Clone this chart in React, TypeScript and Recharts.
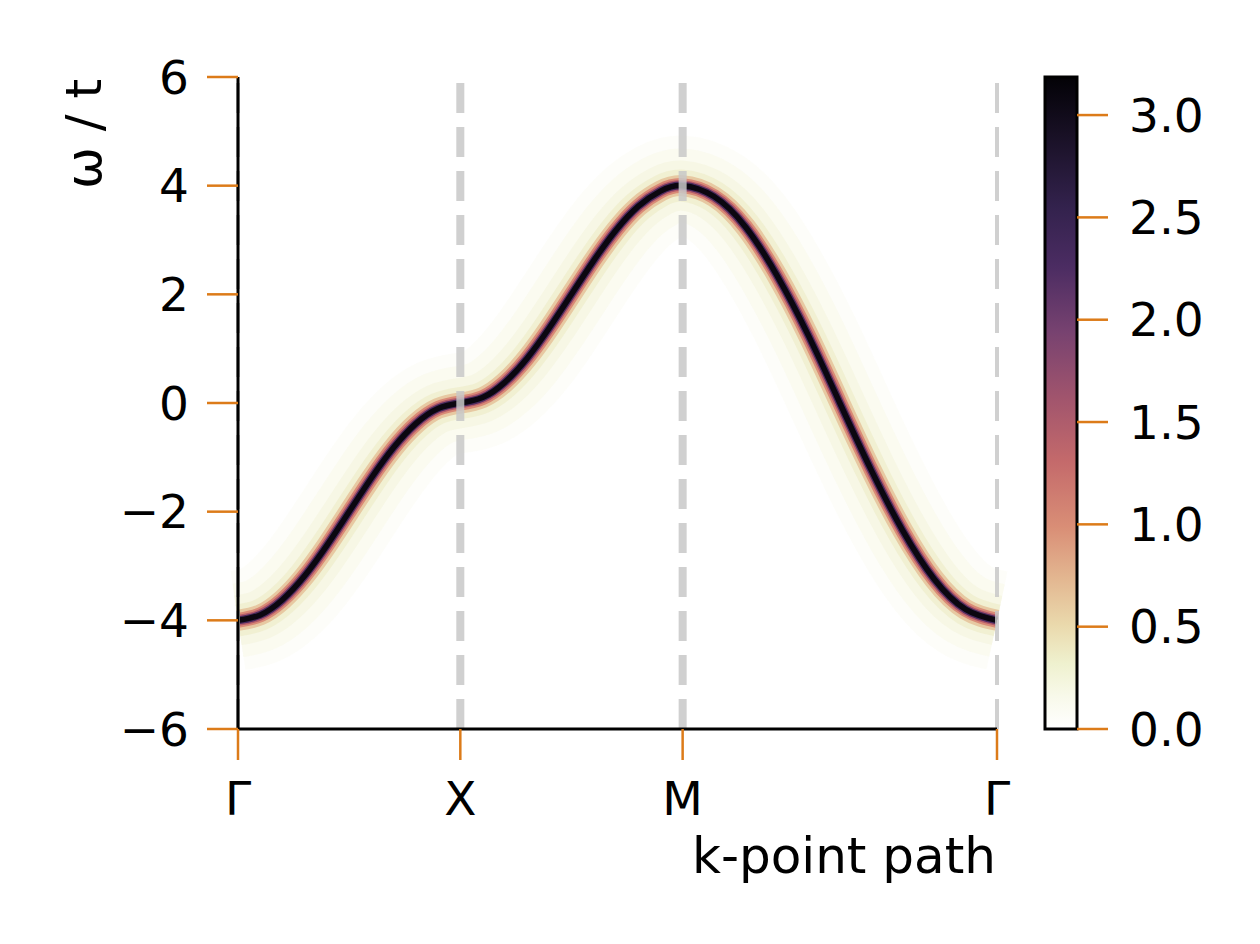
import React from 'react';
import {
  ComposedChart,
  Line,
  Bar,
  XAxis,
  YAxis,
  ReferenceLine,
  Label,
} from 'recharts';

// k along the path Γ → X → M → Γ (units of π), and the band energy
const kPath = [
  0, 0.1, 0.2, 0.3, 0.4, 0.5, 0.6, 0.7, 0.8, 0.9, 1.0,
  1.1, 1.2, 1.3, 1.4, 1.5, 1.6, 1.7, 1.8, 1.9, 2.0,
  2.141, 2.283, 2.424, 2.566, 2.707, 2.849, 2.99, 3.131, 3.273, 3.414,
];
const omega = [
  -4.0, -3.9, -3.62, -3.18, -2.62, -2.0, -1.38, -0.82, -0.38, -0.1, 0.0,
  0.1, 0.38, 0.82, 1.38, 2.0, 2.62, 3.18, 3.62, 3.9, 4.0,
  3.8, 3.24, 2.35, 1.24, 0.0, -1.24, -2.35, -3.24, -3.8, -4.0,
];

const kTicks = [0, 1, 2, 3.414];
const kTickLabels = ['Γ', 'X', 'M', 'Γ'];
const omegaTicks = [-6, -4, -2, 0, 2, 4, 6];
const cbTicks = [0, 0.5, 1.0, 1.5, 2.0, 2.5, 3.0];
const cbMax = 3.186;

const bandData = kPath.map((k, i) => ({ k, w: omega[i] }));
const cbData = [{ name: 'A', value: cbMax }];

// broadening drawn as stacked strokes, outermost first
const layers = [
  { w: 100, c: '#f9faea', o: 0.3 },
  { w: 74, c: '#f7f8e4', o: 0.4 },
  { w: 50, c: '#f3f4da', o: 0.5 },
  { w: 32, c: '#eeecca', o: 0.7 },
  { w: 21, c: '#e7c9a2', o: 1 },
  { w: 15, c: '#d98a76', o: 1 },
  { w: 11, c: '#b25a6b', o: 1 },
  { w: 8, c: '#4a2a5e', o: 1 },
  { w: 5.5, c: '#0b0710', o: 1 },
];

const FONT = 'DejaVu Sans';
const TICK = '#dc7b19';
const TICK_FS = 47;
const LABEL_FS = 50;
const fmtMinus = (v: number) => (v < 0 ? '\u2212' + Math.abs(v) : String(v));

export default function App() {
  return (
    <div style={{ position: 'absolute', left: 0, top: 0, width: 1260, height: 944, background: '#fff' }}>
      <div style={{ position: 'absolute', left: 0, top: 0 }}>
        <ComposedChart
          width={1260}
          height={944}
          data={bandData}
          margin={{ top: 77, right: 263, bottom: 74, left: 0 }}
        >
          {layers.map((l, i) => (
            <Line
              key={i}
              dataKey="w"
              type="natural"
              stroke={l.c}
              strokeOpacity={l.o}
              strokeWidth={l.w}
              dot={false}
              activeDot={false}
              isAnimationActive={false}
            />
          ))}
          <ReferenceLine x={0} stroke="#c8c8c8" strokeWidth={4} strokeDasharray="30 14" />
          <ReferenceLine x={1} stroke="#c8c8c8" strokeOpacity={0.85} strokeWidth={8} strokeDasharray="30 14" />
          <ReferenceLine x={2} stroke="#c8c8c8" strokeOpacity={0.85} strokeWidth={8} strokeDasharray="30 14" />
          <ReferenceLine x={3.414} stroke="#c8c8c8" strokeOpacity={0.85} strokeWidth={4} strokeDasharray="30 14" />
          <XAxis
            dataKey="k"
            type="number"
            domain={[0, 3.414]}
            ticks={kTicks}
            tickFormatter={(v: number) => kTickLabels[kTicks.indexOf(v)] ?? ''}
            height={141}
            tickSize={31}
            tickMargin={22}
            axisLine={{ stroke: '#000', strokeWidth: 3 }}
            tickLine={{ stroke: TICK, strokeWidth: 2.5 }}
            tick={{ fill: '#000', fontSize: TICK_FS, fontFamily: FONT }}
          >
            <Label
              content={(p: any) => (
                <text
                  x={p.viewBox.x + p.viewBox.width - 1}
                  y={p.viewBox.y + p.viewBox.height + 3}
                  textAnchor="end"
                  fontSize={LABEL_FS}
                  fontFamily={FONT}
                  fill="#000"
                >
                  k-point path
                </text>
              )}
            />
          </XAxis>
          <YAxis
            type="number"
            domain={[-6, 6]}
            ticks={omegaTicks}
            tickFormatter={fmtMinus}
            width={238}
            tickSize={31}
            tickMargin={18}
            axisLine={{ stroke: '#000', strokeWidth: 3 }}
            tickLine={{ stroke: TICK, strokeWidth: 2.5 }}
            tick={{ fill: '#000', fontSize: TICK_FS, fontFamily: FONT }}
          >
            <Label
              content={(p: any) => (
                <text
                  x={101}
                  y={p.viewBox.y + 2}
                  transform={`rotate(-90 101 ${p.viewBox.y + 2})`}
                  textAnchor="end"
                  fontSize={LABEL_FS}
                  fontFamily={FONT}
                  fill="#000"
                >
                  ω / t
                </text>
              )}
            />
          </YAxis>
        </ComposedChart>
      </div>
      <div style={{ position: 'absolute', left: 0, top: 0 }}>
        <ComposedChart
          width={1260}
          height={944}
          data={cbData}
          barCategoryGap={0}
          margin={{ top: 77, right: 33, bottom: 215, left: 1045 }}
        >
          <defs>
            <linearGradient id="cbGrad" x1="0" y1="1" x2="0" y2="0">
              <stop offset="0" stopColor="#ffffff" />
              <stop offset="0.05" stopColor="#f8f9ea" />
              <stop offset="0.1" stopColor="#eff1cf" />
              <stop offset="0.16" stopColor="#ead9ac" />
              <stop offset="0.23" stopColor="#e3b791" />
              <stop offset="0.31" stopColor="#d98e76" />
              <stop offset="0.41" stopColor="#c46a6b" />
              <stop offset="0.51" stopColor="#a0546d" />
              <stop offset="0.61" stopColor="#774270" />
              <stop offset="0.71" stopColor="#4b2c62" />
              <stop offset="0.8" stopColor="#33224d" />
              <stop offset="0.9" stopColor="#1b1229" />
              <stop offset="1" stopColor="#030206" />
            </linearGradient>
          </defs>
          <XAxis dataKey="name" type="category" hide />
          <YAxis
            orientation="right"
            type="number"
            domain={[0, cbMax]}
            ticks={cbTicks}
            tickFormatter={(v: number) => v.toFixed(1)}
            width={150}
            tickSize={31}
            tickMargin={21}
            axisLine={false}
            tickLine={{ stroke: TICK, strokeWidth: 2.5 }}
            tick={{ fill: '#000', fontSize: TICK_FS, fontFamily: FONT, textAnchor: 'start' }}
          />
          <Bar
            dataKey="value"
            fill="url(#cbGrad)"
            stroke="#000"
            strokeWidth={3}
            isAnimationActive={false}
          />
        </ComposedChart>
      </div>
    </div>
  );
}
